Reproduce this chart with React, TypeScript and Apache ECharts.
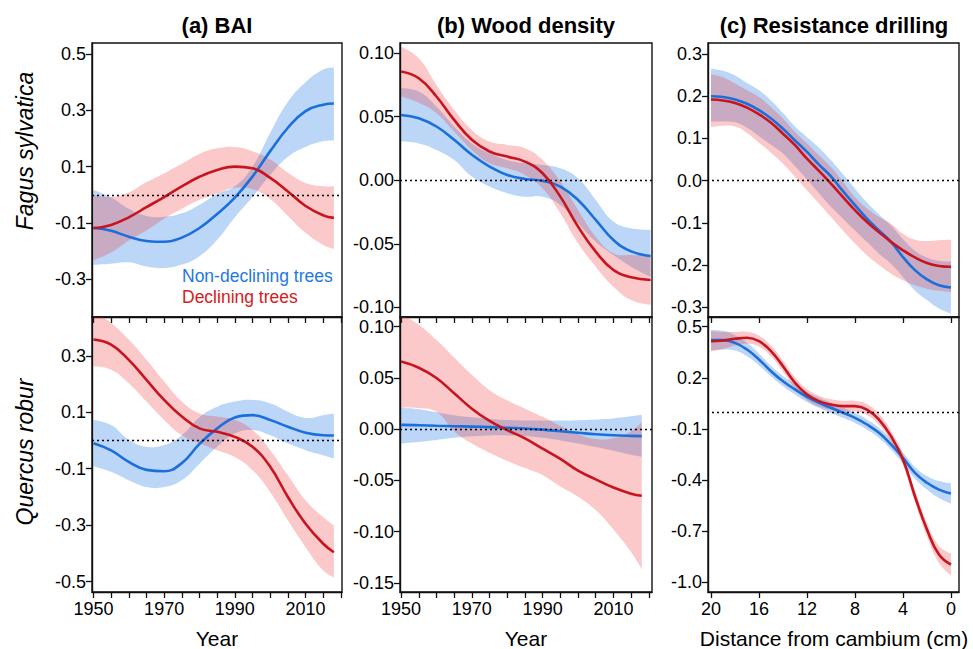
import React, { useEffect, useRef } from "react";
import * as echarts from "echarts";

const FONT = "'Liberation Sans', Arial, Helvetica, sans-serif";

// ---------- Panel (a) BAI, Fagus sylvatica ----------
const A1_YEARS = [1950, 1955, 1960, 1965, 1970, 1975, 1980, 1985, 1990, 1995, 2000, 2005, 2010, 2015, 2018];
const A1_BLUE = [-0.117, -0.128, -0.149, -0.164, -0.167, -0.152, -0.118, -0.068, -0.01, 0.065, 0.155, 0.238, 0.297, 0.32, 0.324];
const A1_BLUE_HI = [0.017, -0.01, -0.05, -0.075, -0.078, -0.066, -0.035, 0.003, 0.03, 0.1, 0.22, 0.33, 0.4, 0.445, 0.452];
const A1_BLUE_LO = [-0.249, -0.245, -0.24, -0.255, -0.26, -0.248, -0.218, -0.16, -0.08, -0.008, 0.07, 0.135, 0.17, 0.19, 0.192];
const A1_RED = [-0.119, -0.107, -0.08, -0.044, -0.008, 0.03, 0.064, 0.088, 0.1, 0.094, 0.06, 0.012, -0.04, -0.073, -0.082];
const A1_RED_HI = [-0.001, -0.008, 0.008, 0.045, 0.076, 0.11, 0.145, 0.165, 0.17, 0.155, 0.125, 0.078, 0.042, 0.03, 0.03];
const A1_RED_LO = [-0.232, -0.205, -0.162, -0.127, -0.085, -0.05, -0.018, 0.005, 0.025, 0.02, -0.015, -0.075, -0.135, -0.178, -0.192];

// ---------- Panel (a) BAI, Quercus robur ----------
const A2_YEARS = [1950, 1955, 1960, 1965, 1970, 1975, 1980, 1985, 1990, 1995, 2000, 2005, 2010, 2015, 2018];
const A2_BLUE = [-0.01, -0.035, -0.076, -0.104, -0.109, -0.08, -0.012, 0.043, 0.082, 0.09, 0.073, 0.049, 0.028, 0.019, 0.018];
const A2_BLUE_HI = [0.073, 0.055, 0.003, -0.022, -0.016, 0.019, 0.083, 0.12, 0.138, 0.144, 0.132, 0.102, 0.08, 0.09, 0.096];
const A2_BLUE_LO = [-0.091, -0.111, -0.141, -0.165, -0.165, -0.141, -0.082, -0.022, 0.025, 0.037, 0.019, -0.01, -0.034, -0.052, -0.064];
const A2_RED = [0.358, 0.34, 0.286, 0.215, 0.144, 0.085, 0.043, 0.031, 0.013, -0.022, -0.093, -0.2, -0.295, -0.366, -0.396];
const A2_RED_HI = [0.46, 0.417, 0.358, 0.286, 0.209, 0.138, 0.096, 0.085, 0.073, 0.037, -0.034, -0.123, -0.212, -0.272, -0.301];
const A2_RED_LO = [0.263, 0.251, 0.203, 0.138, 0.073, 0.019, -0.01, -0.034, -0.058, -0.105, -0.183, -0.283, -0.378, -0.461, -0.485];

// ---------- Panel (b) Wood density, Fagus sylvatica ----------
const B1_YEARS = [1950, 1955, 1960, 1965, 1970, 1975, 1980, 1985, 1990, 1995, 2000, 2005, 2010, 2015, 2020.5];
const B1_BLUE = [0.0514, 0.0488, 0.0423, 0.0318, 0.02, 0.0108, 0.0042, 0.001, -0.0005, -0.005, -0.0155, -0.0312, -0.047, -0.056, -0.0596];
const B1_BLUE_HI = [0.0724, 0.0698, 0.058, 0.0423, 0.029, 0.0213, 0.016, 0.0134, 0.012, 0.0094, 0.0016, -0.0155, -0.0325, -0.0378, -0.039];
const B1_BLUE_LO = [0.0304, 0.029, 0.0239, 0.016, 0.0029, -0.005, -0.0102, -0.0129, -0.0129, -0.0194, -0.0339, -0.0483, -0.0588, -0.068, -0.076];
const B1_RED = [0.0856, 0.0803, 0.0659, 0.0475, 0.0318, 0.0226, 0.0186, 0.0147, 0.0055, -0.0129, -0.0365, -0.0562, -0.0706, -0.0764, -0.0785];
const B1_RED_HI = [0.105, 0.096, 0.075, 0.0554, 0.0396, 0.0304, 0.0278, 0.0252, 0.016, -0.001, -0.0234, -0.0444, -0.0575, -0.0588, -0.0588];
const B1_RED_LO = [0.066, 0.061, 0.0528, 0.0383, 0.0239, 0.0134, 0.0094, 0.0042, -0.0063, -0.026, -0.0496, -0.068, -0.0837, -0.0942, -0.098];

// ---------- Panel (b) Wood density, Quercus robur ----------
const B2_YEARS = [1950, 1955, 1960, 1965, 1970, 1975, 1980, 1985, 1990, 1995, 2000, 2005, 2010, 2015, 2018];
const B2_BLUE = [0.0042, 0.0038, 0.0033, 0.0029, 0.0025, 0.002, 0.0013, 0.0007, -0.0005, -0.002, -0.0035, -0.005, -0.006, -0.0066, -0.0068];
const B2_BLUE_HI = [0.021, 0.0195, 0.0165, 0.0135, 0.0115, 0.01, 0.009, 0.0085, 0.0085, 0.0085, 0.0088, 0.0095, 0.0105, 0.0125, 0.014];
const B2_BLUE_LO = [-0.014, -0.0125, -0.0105, -0.0085, -0.007, -0.0062, -0.0062, -0.007, -0.0085, -0.011, -0.014, -0.0175, -0.021, -0.025, -0.027];
const B2_RED = [0.066, 0.06, 0.05, 0.035, 0.02, 0.008, -0.001, -0.009, -0.019, -0.029, -0.0405, -0.049, -0.057, -0.063, -0.065];
const B2_RED_HI = [0.112, 0.102, 0.087, 0.07, 0.053, 0.038, 0.028, 0.02, 0.012, 0.003, -0.005, -0.0095, -0.009, -0.002, 0.007];
const B2_RED_LO = [0.021, 0.0205, 0.017, -0.002, -0.014, -0.023, -0.031, -0.038, -0.045, -0.056, -0.066, -0.079, -0.098, -0.12, -0.137];

// ---------- Panel (c) Resistance drilling, Fagus sylvatica ----------
const C1_DIST = [20, 19, 18, 17, 16, 15, 14, 13, 12, 11, 10, 9, 8, 7, 6, 5, 4, 3, 2, 1, 0];
const C1_BLUE = [0.2, 0.198, 0.192, 0.182, 0.167, 0.147, 0.123, 0.095, 0.068, 0.038, 0.01, -0.025, -0.058, -0.09, -0.118, -0.145, -0.181, -0.212, -0.234, -0.248, -0.253];
const C1_BLUE_HI = [0.265, 0.26, 0.249, 0.231, 0.214, 0.19, 0.16, 0.128, 0.103, 0.078, 0.048, 0.015, -0.019, -0.052, -0.08, -0.106, -0.138, -0.166, -0.182, -0.19, -0.192];
const C1_BLUE_LO = [0.14, 0.14, 0.138, 0.125, 0.105, 0.085, 0.064, 0.034, 0.003, -0.03, -0.062, -0.09, -0.118, -0.145, -0.173, -0.197, -0.228, -0.26, -0.283, -0.303, -0.315];
const C1_RED = [0.192, 0.19, 0.184, 0.173, 0.157, 0.137, 0.111, 0.084, 0.052, 0.023, -0.007, -0.039, -0.07, -0.098, -0.122, -0.145, -0.165, -0.182, -0.195, -0.202, -0.204];
const C1_RED_HI = [0.252, 0.245, 0.23, 0.214, 0.198, 0.174, 0.147, 0.115, 0.088, 0.06, 0.032, -0.003, -0.039, -0.066, -0.086, -0.102, -0.126, -0.14, -0.143, -0.141, -0.14];
const C1_RED_LO = [0.127, 0.13, 0.128, 0.113, 0.09, 0.066, 0.04, 0.009, -0.023, -0.054, -0.086, -0.118, -0.149, -0.177, -0.2, -0.22, -0.236, -0.248, -0.256, -0.261, -0.264];

// ---------- Panel (c) Resistance drilling, Quercus robur ----------
const C2_DIST = [20, 19, 18, 17, 16, 15, 14, 13, 12, 11, 10, 9, 8, 7, 6, 5, 4, 3, 2, 1, 0];
const C2_BLUE = [0.421, 0.421, 0.405, 0.366, 0.308, 0.239, 0.18, 0.132, 0.088, 0.053, 0.024, -0.005, -0.035, -0.074, -0.123, -0.191, -0.27, -0.358, -0.416, -0.456, -0.479];
const C2_BLUE_HI = [0.481, 0.476, 0.45, 0.406, 0.343, 0.269, 0.21, 0.162, 0.118, 0.083, 0.054, 0.025, -0.005, -0.044, -0.093, -0.161, -0.238, -0.323, -0.376, -0.406, -0.419];
const C2_BLUE_LO = [0.361, 0.366, 0.36, 0.326, 0.273, 0.209, 0.15, 0.102, 0.058, 0.023, -0.006, -0.035, -0.065, -0.104, -0.153, -0.221, -0.302, -0.393, -0.456, -0.506, -0.539];
const C2_RED = [0.415, 0.419, 0.429, 0.435, 0.415, 0.357, 0.268, 0.171, 0.102, 0.063, 0.043, 0.034, 0.034, 0.014, -0.045, -0.142, -0.279, -0.495, -0.69, -0.837, -0.896];
const C2_RED_HI = [0.475, 0.469, 0.469, 0.47, 0.447, 0.389, 0.3, 0.203, 0.134, 0.095, 0.075, 0.066, 0.066, 0.046, -0.013, -0.11, -0.247, -0.46, -0.65, -0.787, -0.831];
const C2_RED_LO = [0.355, 0.369, 0.389, 0.4, 0.383, 0.325, 0.236, 0.139, 0.07, 0.031, 0.011, 0.002, 0.002, -0.018, -0.077, -0.174, -0.311, -0.53, -0.73, -0.887, -0.961];

// ---------- Tick values ----------
const YEAR_TICKS = [1950, 1955, 1960, 1965, 1970, 1975, 1980, 1985, 1990, 1995, 2000, 2005, 2010, 2015, 2020];
const YEAR_LABELS = [1950, 1970, 1990, 2010];
const DIST_TICKS = [0, 4, 8, 12, 16, 20];
const A1_YTICKS = [-0.3, -0.1, 0.1, 0.3, 0.5];
const A2_YTICKS = [-0.5, -0.3, -0.1, 0.1, 0.3];
const B1_YTICKS = [-0.1, -0.05, 0, 0.05, 0.1];
const B2_YTICKS = [-0.15, -0.1, -0.05, 0, 0.05, 0.1];
const C1_YTICKS = [-0.3, -0.2, -0.1, 0, 0.1, 0.2, 0.3];
const C2_YTICKS = [-1.0, -0.7, -0.4, -0.1, 0.2, 0.5];

const TITLES = ["(a) BAI", "(b) Wood density", "(c) Resistance drilling"];
const ROW_NAMES = ["Fagus sylvatica", "Quercus robur"];
const X_NAMES = ["Year", "Year", "Distance from cambium (cm)"];
const LEGEND = ["Non-declining trees", "Declining trees"];

const BLUE = "#1b6fdb";
const RED = "#c8141e";
const BLUE_BAND = "rgba(30,120,230,0.3)";
const RED_BAND = "rgba(240,40,40,0.25)";

type Panel = {
  x: number[];
  blue: number[]; blueHi: number[]; blueLo: number[];
  red: number[]; redHi: number[]; redLo: number[];
  grid: { left: number; top: number; width: number; height: number };
  xMin: number; xMax: number; inverse: boolean;
  xTicks: number[]; xLabels: number[]; showXLabels: boolean;
  yMin: number; yMax: number; yTicks: number[]; dec: number;
};

const PANELS: Panel[] = [
  { x: A1_YEARS, blue: A1_BLUE, blueHi: A1_BLUE_HI, blueLo: A1_BLUE_LO, red: A1_RED, redHi: A1_RED_HI, redLo: A1_RED_LO,
    grid: { left: 92, top: 43, width: 250, height: 274 }, xMin: 1949.6, xMax: 2020.3, inverse: false,
    xTicks: YEAR_TICKS, xLabels: YEAR_LABELS, showXLabels: false, yMin: -0.434, yMax: 0.539, yTicks: A1_YTICKS, dec: 1 },
  { x: B1_YEARS, blue: B1_BLUE, blueHi: B1_BLUE_HI, blueLo: B1_BLUE_LO, red: B1_RED, redHi: B1_RED_HI, redLo: B1_RED_LO,
    grid: { left: 400, top: 43, width: 252, height: 274 }, xMin: 1949.7, xMax: 2020.9, inverse: false,
    xTicks: YEAR_TICKS, xLabels: YEAR_LABELS, showXLabels: false, yMin: -0.1076, yMax: 0.108, yTicks: B1_YTICKS, dec: 2 },
  { x: C1_DIST, blue: C1_BLUE, blueHi: C1_BLUE_HI, blueLo: C1_BLUE_LO, red: C1_RED, redHi: C1_RED_HI, redLo: C1_RED_LO,
    grid: { left: 708, top: 43, width: 251, height: 274 }, xMin: -0.67, xMax: 20.25, inverse: true,
    xTicks: DIST_TICKS, xLabels: DIST_TICKS, showXLabels: false, yMin: -0.323, yMax: 0.326, yTicks: C1_YTICKS, dec: 1 },
  { x: A2_YEARS, blue: A2_BLUE, blueHi: A2_BLUE_HI, blueLo: A2_BLUE_LO, red: A2_RED, redHi: A2_RED_HI, redLo: A2_RED_LO,
    grid: { left: 92, top: 317, width: 250, height: 275 }, xMin: 1949.6, xMax: 2020.3, inverse: false,
    xTicks: YEAR_TICKS, xLabels: YEAR_LABELS, showXLabels: true, yMin: -0.537, yMax: 0.438, yTicks: A2_YTICKS, dec: 1 },
  { x: B2_YEARS, blue: B2_BLUE, blueHi: B2_BLUE_HI, blueLo: B2_BLUE_LO, red: B2_RED, redHi: B2_RED_HI, redLo: B2_RED_LO,
    grid: { left: 400, top: 317, width: 252, height: 275 }, xMin: 1949.7, xMax: 2020.9, inverse: false,
    xTicks: YEAR_TICKS, xLabels: YEAR_LABELS, showXLabels: true, yMin: -0.159, yMax: 0.1095, yTicks: B2_YTICKS, dec: 2 },
  { x: C2_DIST, blue: C2_BLUE, blueHi: C2_BLUE_HI, blueLo: C2_BLUE_LO, red: C2_RED, redHi: C2_RED_HI, redLo: C2_RED_LO,
    grid: { left: 708, top: 317, width: 251, height: 275 }, xMin: -0.67, xMax: 20.25, inverse: true,
    xTicks: DIST_TICKS, xLabels: DIST_TICKS, showXLabels: true, yMin: -1.057, yMax: 0.557, yTicks: C2_YTICKS, dec: 1 },
];

const AXIS_COLOR = "#111";
const SMOOTH = 0.45;

// Smooth bezier path through pixel points, same scheme as ECharts' line smoothing.
function smoothSegments(pts: number[][], start: boolean): string {
  let d = "";
  const n = pts.length;
  const f = (v: number) => v.toFixed(2);
  if (start) d += `M${f(pts[0][0])},${f(pts[0][1])}`;
  else d += `L${f(pts[0][0])},${f(pts[0][1])}`;
  const cps: number[][][] = pts.map((p, i) => {
    const prev = pts[Math.max(0, i - 1)];
    const next = pts[Math.min(n - 1, i + 1)];
    if (i === 0 || i === n - 1) return [p, p];
    const vx = next[0] - prev[0];
    const vy = next[1] - prev[1];
    const l0 = Math.hypot(p[0] - prev[0], p[1] - prev[1]);
    const l1 = Math.hypot(next[0] - p[0], next[1] - p[1]);
    const r = l1 / (l0 + l1 || 1);
    return [
      [p[0] - vx * SMOOTH * (1 - r), p[1] - vy * SMOOTH * (1 - r)],
      [p[0] + vx * SMOOTH * r, p[1] + vy * SMOOTH * r],
    ];
  });
  for (let i = 1; i < n; i++) {
    const c1 = cps[i - 1][1];
    const c2 = cps[i][0];
    const p = pts[i];
    d += `C${f(c1[0])},${f(c1[1])} ${f(c2[0])},${f(c2[1])} ${f(p[0])},${f(p[1])}`;
  }
  return d;
}

function buildOption(): any {
  const grid: any[] = [];
  const xAxis: any[] = [];
  const yAxis: any[] = [];
  const series: any[] = [];

  PANELS.forEach((p, i) => {
    grid.push({
      ...p.grid,
      show: true,
      borderColor: AXIS_COLOR,
      borderWidth: 1.4,
      backgroundColor: "transparent",
      containLabel: false,
      outerBoundsMode: "none",
    });
    xAxis.push({
      type: "value",
      gridIndex: i,
      min: p.xMin,
      max: p.xMax,
      inverse: p.inverse,
      axisLine: { show: true, onZero: false, lineStyle: { color: AXIS_COLOR, width: 1.4 } },
      axisTick: { show: true, inside: false, length: 6, customValues: p.xTicks, lineStyle: { color: AXIS_COLOR, width: 1.3 } },
      axisLabel: {
        show: p.showXLabels,
        customValues: p.xLabels,
        color: "#000",
        fontSize: 18,
        fontFamily: FONT,
        margin: 8,
        formatter: (v: number) => String(Math.round(v)),
      },
      splitLine: { show: false },
    });
    yAxis.push({
      type: "value",
      gridIndex: i,
      min: p.yMin,
      max: p.yMax,
      axisLine: { show: true, onZero: false, lineStyle: { color: AXIS_COLOR, width: 1.4 } },
      axisTick: { show: true, inside: false, length: 6, customValues: p.yTicks, lineStyle: { color: AXIS_COLOR, width: 1.3 } },
      axisLabel: {
        show: true,
        customValues: p.yTicks,
        color: "#000",
        fontSize: 18,
        fontFamily: FONT,
        margin: 6,
        formatter: (v: number) => (Math.abs(v) < 1e-9 ? 0 : v).toFixed(p.dec),
      },
      splitLine: { show: false },
    });

    const band = (lo: number[], hi: number[], color: string) => {
      series.push({
        type: "custom",
        xAxisIndex: i,
        yAxisIndex: i,
        coordinateSystem: "cartesian2d",
        clip: true,
        silent: true,
        z: 1,
        data: p.x.map((xv, k) => [xv, lo[k], hi[k]]),
        encode: { x: 0, y: [1, 2] },
        renderItem: (params: any, api: any) => {
          if (params.dataIndex !== 0) return null;
          const upper = p.x.map((xv, k) => api.coord([xv, hi[k]]));
          const lower = p.x.map((xv, k) => api.coord([xv, lo[k]])).reverse();
          const d = smoothSegments(upper, true) + smoothSegments(lower, false) + "Z";
          return {
            type: "path",
            shape: { pathData: d },
            style: { fill: color, stroke: "none" },
          };
        },
      });
    };
    band(p.blueLo, p.blueHi, BLUE_BAND);
    band(p.redLo, p.redHi, RED_BAND);

    series.push({
      type: "line",
      xAxisIndex: i,
      yAxisIndex: i,
      data: p.x.map((xv, k) => [xv, p.blue[k]]),
      symbol: "none",
      smooth: SMOOTH,
      lineStyle: { color: BLUE, width: 2.6 },
      silent: true,
      z: 3,
      markLine: {
        silent: true,
        symbol: ["none", "none"],
        label: { show: false },
        lineStyle: { color: "#000", type: [2, 3], width: 1.4 },
        data: [{ yAxis: 0 }],
        z: 4,
      },
    });
    series.push({
      type: "line",
      xAxisIndex: i,
      yAxisIndex: i,
      data: p.x.map((xv, k) => [xv, p.red[k]]),
      symbol: "none",
      smooth: SMOOTH,
      lineStyle: { color: RED, width: 2.6 },
      silent: true,
      z: 3,
    });
  });

  const text = (x: number, y: number, t: string, opts: any = {}) => ({
    type: "text",
    x,
    y,
    rotation: opts.rotation || 0,
    silent: true,
    z: 10,
    style: {
      text: t,
      fill: opts.fill || "#000",
      fontSize: opts.fontSize || 18,
      fontWeight: opts.fontWeight || "normal",
      fontStyle: opts.fontStyle || "normal",
      fontFamily: FONT,
      align: opts.align || "center",
      verticalAlign: "middle",
    },
  });

  const graphic: any[] = [
    text(217, 25, TITLES[0], { fontSize: 22, fontWeight: "bold" }),
    text(526, 25, TITLES[1], { fontSize: 22, fontWeight: "bold" }),
    text(834, 25, TITLES[2], { fontSize: 22, fontWeight: "bold" }),
    text(25, 151, ROW_NAMES[0], { fontSize: 23, fontStyle: "italic", rotation: Math.PI / 2 }),
    text(25, 452, ROW_NAMES[1], { fontSize: 23, fontStyle: "italic", rotation: Math.PI / 2 }),
    text(217, 638, X_NAMES[0], { fontSize: 21 }),
    text(526, 638, X_NAMES[1], { fontSize: 21 }),
    text(834, 638, X_NAMES[2], { fontSize: 21 }),
    text(182, 276, LEGEND[0], { fontSize: 17.5, fill: "#1e78e6", align: "left" }),
    text(182, 297, LEGEND[1], { fontSize: 17.5, fill: "#d42020", align: "left" }),
  ];

  return {
    animation: false,
    backgroundColor: "#fff",
    textStyle: { fontFamily: FONT },
    grid,
    xAxis,
    yAxis,
    series,
    graphic,
  };
}

export default function App() {
  const ref = useRef<HTMLDivElement>(null);
  useEffect(() => {
    if (!ref.current) return;
    const chart = echarts.init(ref.current, undefined, { renderer: "svg" });
    chart.setOption(buildOption());
    return () => chart.dispose();
  }, []);
  return (
    <div
      ref={ref}
      style={{ position: "absolute", left: 0, top: 0, width: 973, height: 649, background: "#fff" }}
    />
  );
}
